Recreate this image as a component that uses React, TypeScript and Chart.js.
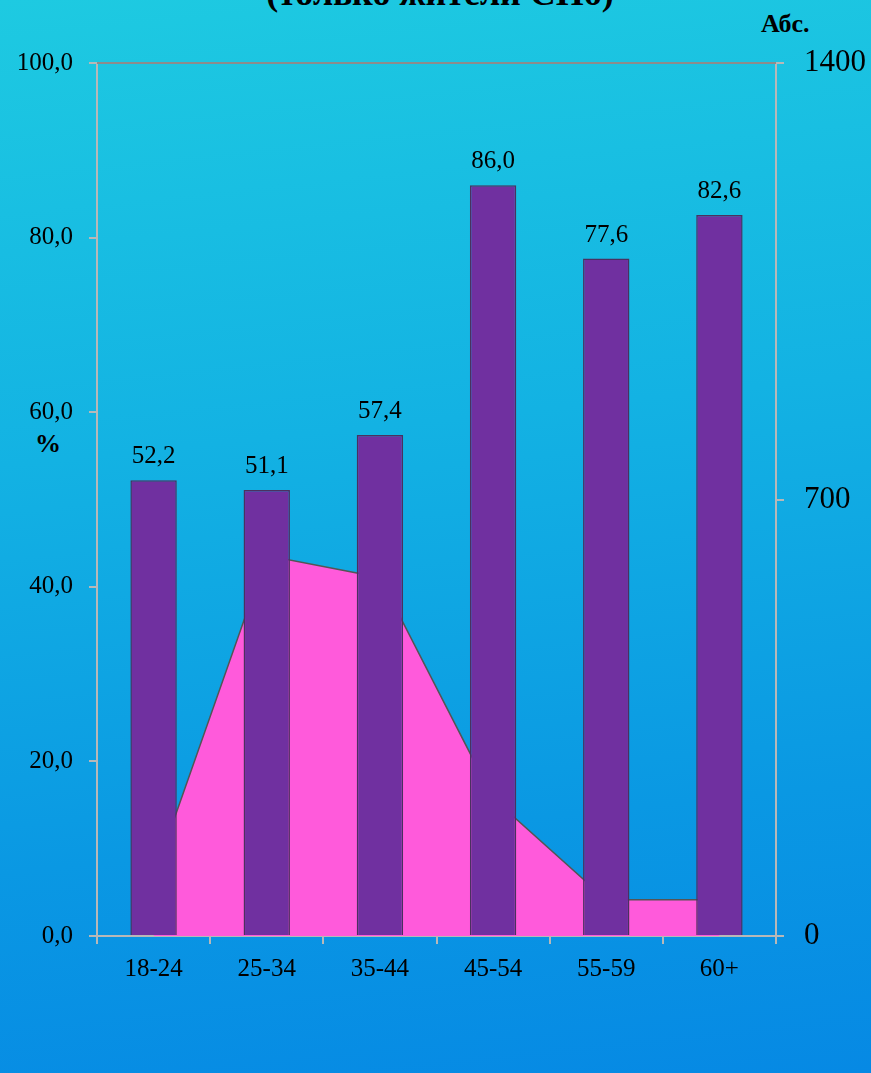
import React, { useEffect, useRef } from "react";
import { Chart, registerables } from "chart.js";

Chart.register(...registerables);

const categories = ["18-24", "25-34", "35-44", "45-54", "55-59", "60+"];
const percentValues = [52.2, 51.1, 57.4, 86.0, 77.6, 82.6];
const absoluteValues = [94, 610, 575, 221, 58, 58];
const percentTicks = [0, 20, 40, 60, 80, 100];
const absoluteTicks = [0, 700, 1400];

const FONT = "'Liberation Serif', 'Times New Roman', serif";

const fmtPct = (v: number) => v.toFixed(1).replace(".", ",");

const extrasPlugin = {
  id: "extras",
  afterDraw(chart: any) {
    const { ctx, chartArea } = chart;
    ctx.save();
    ctx.strokeStyle = "#8c8c8c";
    ctx.lineWidth = 2;
    ctx.beginPath();
    ctx.moveTo(chartArea.left, chartArea.top);
    ctx.lineTo(chartArea.right, chartArea.top);
    ctx.stroke();
    const meta = chart.getDatasetMeta(0);
    ctx.fillStyle = "#000";
    ctx.font = `25px ${FONT}`;
    ctx.textAlign = "center";
    ctx.textBaseline = "alphabetic";
    meta.data.forEach((el: any, i: number) => {
      ctx.fillText(fmtPct(percentValues[i]), el.x, el.y - 17);
    });
    ctx.restore();
  },
};

export default function App() {
  const ref = useRef<HTMLCanvasElement | null>(null);

  useEffect(() => {
    if (!ref.current) return;
    const chart = new Chart(ref.current, {
      type: "bar",
      data: {
        labels: categories,
        datasets: [
          {
            type: "bar",
            label: "%",
            data: percentValues,
            backgroundColor: "#7030A0",
            borderColor: "#4b3060",
            borderWidth: 1.5,
            barPercentage: 0.41,
            categoryPercentage: 1,
            yAxisID: "y",
            order: 0,
          } as any,
          {
            type: "line",
            label: "Абс.",
            data: absoluteValues,
            yAxisID: "y2",
            fill: "origin",
            backgroundColor: "#FF5ADB",
            borderColor: "#555555",
            borderWidth: 1.5,
            pointRadius: 0,
            tension: 0,
            order: 1,
          } as any,
        ],
      },
      options: {
        responsive: false,
        animation: false,
        devicePixelRatio: 1,
        layout: { padding: { top: 63, left: 0, right: 0, bottom: 0 } },
        plugins: {
          legend: { display: false },
          tooltip: { enabled: false },
        },
        scales: {
          x: {
            offset: true,
            grid: {
              offset: true,
              display: true,
              drawOnChartArea: false,
              drawTicks: true,
              tickLength: 8,
              color: "#b8b8b8",
              lineWidth: 2,
            },
            border: { display: true, color: "#b8b8b8", width: 2 },
            ticks: {
              color: "#000",
              font: { family: FONT, size: 25 },
              padding: 10,
              maxRotation: 0,
            },
            afterFit: (s: any) => {
              s.height = 137;
            },
          },
          y: {
            position: "left",
            min: 0,
            max: 100,
            afterBuildTicks: (s: any) => {
              s.ticks = percentTicks.map((v) => ({ value: v }));
            },
            ticks: {
              color: "#000",
              font: { family: FONT, size: 25 },
              padding: 16,
              callback: (v: any) => fmtPct(Number(v)),
            },
            grid: {
              drawOnChartArea: false,
              drawTicks: true,
              tickLength: 8,
              color: "#b8b8b8",
              lineWidth: 2,
            },
            border: { display: true, color: "#b8b8b8", width: 2 },
            afterFit: (s: any) => {
              s.width = 97;
            },
          },
          y2: {
            position: "right",
            min: 0,
            max: 1400,
            afterBuildTicks: (s: any) => {
              s.ticks = absoluteTicks.map((v) => ({ value: v }));
            },
            ticks: {
              color: "#000",
              font: { family: FONT, size: 31 },
              padding: 20,
              callback: (v: any) => String(v),
            },
            grid: {
              drawOnChartArea: false,
              drawTicks: true,
              tickLength: 8,
              color: "#b8b8b8",
              lineWidth: 2,
            },
            border: { display: true, color: "#b8b8b8", width: 2 },
            afterFit: (s: any) => {
              s.width = 95;
            },
          },
        },
      } as any,
      plugins: [extrasPlugin],
    });
    return () => chart.destroy();
  }, []);

  return (
    <div
      style={{
        position: "absolute",
        left: 0,
        top: 0,
        width: 871,
        height: 1073,
        overflow: "hidden",
        background:
          "linear-gradient(174deg, #1ecae1 0%, #13b2e3 40%, #0a98e3 75%, #0689e4 100%)",
        fontFamily: FONT,
      }}
    >
      <div
        style={{
          position: "absolute",
          left: 140,
          width: 600,
          top: -25,
          textAlign: "center",
          fontSize: 36,
          lineHeight: "36px",
          fontWeight: "bold",
          whiteSpace: "nowrap",
        }}
      >
        (только жители СПб)
      </div>
      <div
        style={{
          position: "absolute",
          left: 761,
          top: 11,
          fontSize: 26,
          lineHeight: "26px",
          fontWeight: "bold",
          whiteSpace: "nowrap",
        }}
      >
        Абс.
      </div>
      <div
        style={{
          position: "absolute",
          left: 35,
          top: 431,
          fontSize: 26,
          lineHeight: "26px",
          fontWeight: "bold",
        }}
      >
        %
      </div>
      <canvas
        ref={ref}
        width={871}
        height={1073}
        style={{ position: "absolute", left: 0, top: 0, width: 871, height: 1073 }}
      />
    </div>
  );
}
